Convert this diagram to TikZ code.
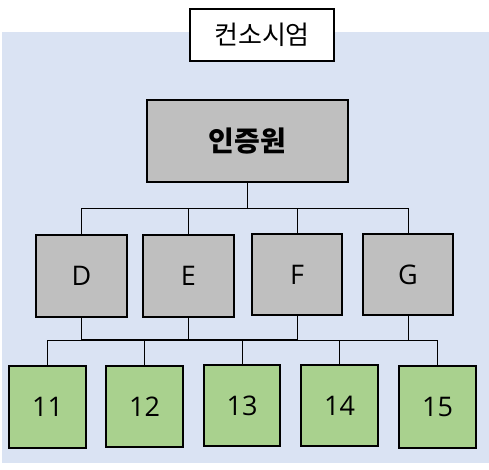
\documentclass[tikz,border=0pt]{standalone}
\usepackage{fontspec}
\setmainfont{Open Sans}
\newfontfamily\kr{Noto Sans CJK KR}
\definecolor{bgblue}{HTML}{DAE3F3}
\definecolor{boxgray}{HTML}{BFBFBF}
\definecolor{boxgreen}{HTML}{A9D18E}
\begin{document}
\begin{tikzpicture}[x=1pt,y=-1pt,
  box/.style={draw=black,line width=1.8pt,inner sep=0pt,outer sep=0pt,rectangle},
  graybox/.style={box,fill=boxgray,font=\fontsize{27}{30}\selectfont},
  greenbox/.style={box,fill=boxgreen,minimum width=77pt,minimum height=81pt,font=\fontsize{27}{30}\selectfont},
  conn/.style={draw=black,line width=1pt}]
\useasboundingbox (0,0) rectangle (489,469);
\fill[bgblue] (2,32) rectangle (489,463);
\node[box,fill=white,line width=1.3pt,minimum width=144pt,minimum height=52pt,font=\kr\fontsize{26}{30}\selectfont] (title) at (262,35) {컨소시엄};
\node[graybox,minimum width=201pt,minimum height=82pt,font=\kr\bfseries\fontsize{28}{30}\selectfont] (root) at (247.5,141) {인증원};
\node[graybox,minimum width=91pt,minimum height=82pt] (D) at (81.5,276) {D};
\node[graybox,minimum width=91pt,minimum height=82pt] (E) at (188.5,276) {E};
\node[graybox,minimum width=90pt,minimum height=81pt] (F) at (297,274.5) {F};
\node[graybox,minimum width=90pt,minimum height=81pt] (G) at (408,274.5) {G};
\node[greenbox,minimum height=82pt] (n11) at (47.5,407) {11};
\node[greenbox] (n12) at (144.5,406.5) {12};
\node[greenbox,minimum width=76pt] (n13) at (242,405.5) {13};
\node[greenbox] (n14) at (339.5,405.5) {14};
\node[greenbox,minimum height=82pt] (n15) at (437.5,407) {15};
\coordinate (bus1) at (0,208);
\coordinate (bus2) at (0,340);
\draw[conn] (root.south) -- (root.south|-bus1);
\draw[conn] (D.north) -- (D.north|-bus1) -- (G.north|-bus1) -- (G.north);
\draw[conn] (E.north) -- (E.north|-bus1);
\draw[conn] (F.north) -- (F.north|-bus1);
\draw[conn] (n11.north) -- (n11.north|-bus2) -- (n15.north|-bus2) -- (n15.north);
\draw[conn] (n12.north) -- (n12.north|-bus2);
\draw[conn] (n13.north) -- (n13.north|-bus2);
\draw[conn] (n14.north) -- (n14.north|-bus2);
\draw[conn] (D.south) -- (D.south|-bus2);
\draw[conn] (E.south) -- (E.south|-bus2);
\draw[conn] (F.south) -- (F.south|-bus2);
\draw[conn] (G.south) -- (G.south|-bus2);
\draw[conn,line width=1.6pt] (D.south|-bus2) -- (F.south|-bus2);
\end{tikzpicture}
\end{document}
